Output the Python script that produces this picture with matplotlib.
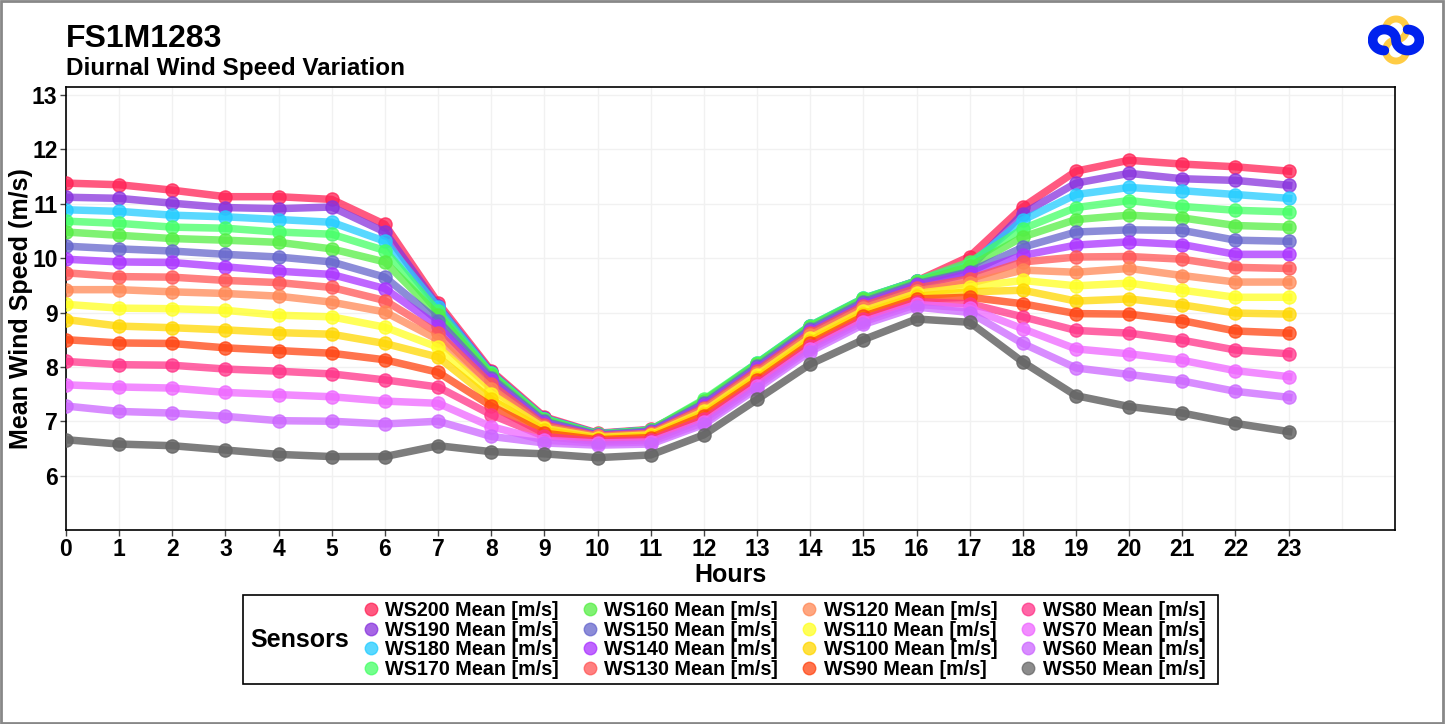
import numpy as np
import matplotlib
matplotlib.use("Agg")
import matplotlib.pyplot as plt
from matplotlib.lines import Line2D
from matplotlib.patches import Rectangle

plt.rcParams['font.family'] = ['Liberation Sans', 'DejaVu Sans']
plt.rcParams['font.weight'] = 'bold'

hours = list(range(24))

ws200 = [11.38, 11.35, 11.25, 11.13, 11.13, 11.08, 10.62, 9.18, 7.93, 7.08, 6.78, 6.85, 7.35, 8.05, 8.74, 9.25, 9.58, 10.03, 10.94, 11.60, 11.80, 11.73, 11.68, 11.60]
ws190 = [11.12, 11.10, 11.01, 10.93, 10.91, 10.94, 10.48, 9.12, 7.90, 7.06, 6.77, 6.84, 7.36, 8.06, 8.75, 9.25, 9.58, 9.82, 10.82, 11.38, 11.56, 11.46, 11.43, 11.34]
ws180 = [10.89, 10.86, 10.79, 10.76, 10.71, 10.66, 10.31, 9.10, 7.88, 7.05, 6.77, 6.84, 7.38, 8.07, 8.76, 9.26, 9.58, 9.88, 10.70, 11.17, 11.30, 11.24, 11.17, 11.10]
ws170 = [10.68, 10.64, 10.57, 10.55, 10.48, 10.44, 10.14, 9.02, 7.88, 7.05, 6.76, 6.84, 7.40, 8.07, 8.76, 9.26, 9.58, 9.93, 10.54, 10.93, 11.06, 10.95, 10.88, 10.85]
ws160 = [10.48, 10.42, 10.36, 10.33, 10.29, 10.17, 9.93, 8.95, 7.85, 7.03, 6.76, 6.83, 7.38, 8.05, 8.74, 9.24, 9.56, 9.85, 10.39, 10.71, 10.79, 10.74, 10.60, 10.57]
ws150 = [10.22, 10.17, 10.13, 10.07, 10.02, 9.93, 9.65, 8.85, 7.80, 7.00, 6.75, 6.82, 7.33, 8.01, 8.70, 9.20, 9.53, 9.75, 10.20, 10.48, 10.52, 10.51, 10.33, 10.31]
ws140 = [9.98, 9.93, 9.92, 9.84, 9.76, 9.70, 9.44, 8.75, 7.75, 6.97, 6.74, 6.80, 7.30, 7.97, 8.66, 9.16, 9.50, 9.72, 10.05, 10.24, 10.30, 10.25, 10.07, 10.07]
ws130 = [9.73, 9.66, 9.65, 9.59, 9.55, 9.46, 9.22, 8.62, 7.68, 6.93, 6.73, 6.78, 7.25, 7.93, 8.62, 9.12, 9.45, 9.62, 9.93, 10.02, 10.03, 9.98, 9.83, 9.81]
ws120 = [9.42, 9.42, 9.38, 9.35, 9.30, 9.19, 9.01, 8.50, 7.60, 6.90, 6.72, 6.77, 7.22, 7.89, 8.58, 9.08, 9.40, 9.54, 9.78, 9.74, 9.81, 9.68, 9.56, 9.56]
ws110 = [9.15, 9.08, 9.07, 9.04, 8.95, 8.92, 8.73, 8.36, 7.50, 6.87, 6.70, 6.75, 7.18, 7.85, 8.53, 9.03, 9.35, 9.47, 9.59, 9.49, 9.54, 9.41, 9.28, 9.28]
ws100 = [8.87, 8.75, 8.72, 8.68, 8.63, 8.60, 8.43, 8.18, 7.40, 6.83, 6.68, 6.73, 7.14, 7.80, 8.48, 8.98, 9.30, 9.38, 9.41, 9.21, 9.25, 9.14, 8.99, 8.97]
ws90 = [8.50, 8.44, 8.43, 8.35, 8.30, 8.25, 8.13, 7.90, 7.28, 6.78, 6.66, 6.70, 7.10, 7.75, 8.43, 8.93, 9.25, 9.28, 9.16, 8.98, 8.97, 8.85, 8.66, 8.62]
ws80 = [8.10, 8.04, 8.03, 7.96, 7.92, 7.87, 7.76, 7.63, 7.12, 6.72, 6.63, 6.66, 7.04, 7.70, 8.38, 8.88, 9.20, 9.16, 8.92, 8.67, 8.62, 8.49, 8.31, 8.24]
ws70 = [7.67, 7.63, 7.61, 7.53, 7.49, 7.45, 7.37, 7.33, 6.90, 6.65, 6.60, 6.62, 6.98, 7.65, 8.33, 8.83, 9.15, 9.08, 8.70, 8.33, 8.24, 8.12, 7.93, 7.82]
ws60 = [7.28, 7.18, 7.15, 7.09, 7.01, 7.00, 6.95, 7.00, 6.72, 6.60, 6.56, 6.58, 6.94, 7.60, 8.28, 8.78, 9.10, 9.00, 8.43, 7.98, 7.86, 7.74, 7.55, 7.44]
ws50 = [6.66, 6.58, 6.55, 6.47, 6.39, 6.35, 6.35, 6.55, 6.44, 6.40, 6.33, 6.38, 6.75, 7.40, 8.05, 8.50, 8.88, 8.82, 8.09, 7.47, 7.27, 7.15, 6.96, 6.81]

labels = ['WS200 Mean [m/s]', 'WS190 Mean [m/s]', 'WS180 Mean [m/s]', 'WS170 Mean [m/s]',
          'WS160 Mean [m/s]', 'WS150 Mean [m/s]', 'WS140 Mean [m/s]', 'WS130 Mean [m/s]',
          'WS120 Mean [m/s]', 'WS110 Mean [m/s]', 'WS100 Mean [m/s]', 'WS90 Mean [m/s]',
          'WS80 Mean [m/s]', 'WS70 Mean [m/s]', 'WS60 Mean [m/s]', 'WS50 Mean [m/s]']
series = [ws200, ws190, ws180, ws170, ws160, ws150, ws140, ws130,
          ws120, ws110, ws100, ws90, ws80, ws70, ws60, ws50]
colors = ['#ff2255', '#8833dd', '#22ccff', '#44ff66', '#55ee44', '#6666cc', '#aa33ff', '#ff5555',
          '#ff8855', '#ffff22', '#ffd700', '#ff4411', '#ff3388', '#ee66ff', '#cc66ff', '#666666']

fig = plt.figure(figsize=(14.46, 7.24), dpi=100)
ax = fig.add_axes([0.0456, 0.268, 0.9191, 0.612])

for i, (vals, lab, c) in enumerate(zip(series, labels, colors)):
    a = 0.85 if c == '#666666' else 0.75
    ax.plot(hours, vals, color=c, lw=5.4, marker='o', ms=9.5, alpha=a,
            solid_joinstyle='round', zorder=3 + i)

ax.set_xlim(0, 25)
ax.set_ylim(5, 13.15)
ax.set_xticks(hours)
ax.set_yticks(range(6, 14))
for v in range(0, 26):
    ax.axvline(v, color='#f1f1f1', lw=1, zorder=0)
for v in range(5, 14):
    ax.axhline(v, color='#f1f1f1', lw=1, zorder=0)
ax.tick_params(axis='both', labelsize=16.5, length=4, width=1, color='#444444', pad=2)
for s in ax.spines.values():
    s.set_color('black')
    s.set_linewidth(1.2)
ax.set_xlabel('Hours', fontsize=18, fontweight='bold', labelpad=1)
ax.set_ylabel('Mean Wind Speed (m/s)', fontsize=18, fontweight='bold', labelpad=-1)

fig.text(0.0456, 0.935, 'FS1M1283', fontsize=23, fontweight='bold', va='baseline')
fig.text(0.0456, 0.896, 'Diurnal Wind Speed Variation', fontsize=17.5, fontweight='bold', va='baseline')

# legend box with the title on the left
fig.patches.append(Rectangle((243 / 1446, 40 / 724), 975 / 1446, 89 / 724, transform=fig.transFigure,
                             fill=False, edgecolor='black', lw=1.2))
fig.text(250 / 1446, (724 - 640) / 724, 'Sensors', fontsize=18, fontweight='bold', va='center')
handles = [Line2D([], [], ls='none', marker='o', ms=9, color=c, alpha=0.75) for c in colors]
fig.legend(handles, labels, ncol=4, loc='center', bbox_to_anchor=(784 / 1446, (724 - 640) / 724),
           frameon=False, fontsize=14.2, handlelength=0.8, handletextpad=0.35,
           columnspacing=1.15, labelspacing=0.03, borderpad=0)

# small logo top right
lax = fig.add_axes([1368 / 1446, 1 - 68 / 724, 56 / 1446, 56 / 724])
lax.set_aspect('equal')
lax.axis('off')
t1 = np.radians(np.linspace(270, 0, 60))
t2 = np.radians(np.linspace(180, 450, 60))
sx = np.concatenate([-0.5 + 0.5 * np.cos(t1), 0.5 + 0.5 * np.cos(t2)])
sy = np.concatenate([0.5 * np.sin(t1), 0.5 * np.sin(t2)])
lax.plot(-sy * 0.9, sx * 0.9, color='#ffcc44', lw=5, solid_capstyle='round')
lax.plot(sx, sy * 0.9, color='#0022ee', lw=7, solid_capstyle='round')
lax.set_xlim(-1.2, 1.2)
lax.set_ylim(-1.2, 1.2)

fig.patches.append(Rectangle((0.001, 0.002), 0.997, 0.996, transform=fig.transFigure,
                             fill=False, edgecolor='#888888', lw=2))

fig.savefig('out.png', dpi=100)
